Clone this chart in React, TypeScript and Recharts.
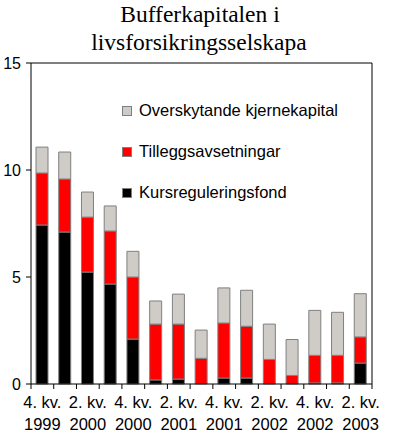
import React from "react";
import { BarChart, Bar, XAxis, YAxis, ReferenceLine, Legend } from "recharts";

const quarters = [
  "4. kv. 1999", "1. kv. 2000", "2. kv. 2000", "3. kv. 2000", "4. kv. 2000",
  "1. kv. 2001", "2. kv. 2001", "3. kv. 2001", "4. kv. 2001",
  "1. kv. 2002", "2. kv. 2002", "3. kv. 2002", "4. kv. 2002",
  "1. kv. 2003", "2. kv. 2003",
];
const kursreguleringsfond = [7.43, 7.1, 5.23, 4.67, 2.1, 0.19, 0.23, 0, 0.28, 0.28, 0, 0, 0.05, 0.05, 0.98];
const tilleggsavsetningar = [2.43, 2.48, 2.57, 2.48, 2.9, 2.61, 2.57, 1.2, 2.57, 2.42, 1.15, 0.4, 1.29, 1.29, 1.22];
const overskytande = [1.21, 1.26, 1.17, 1.17, 1.2, 1.08, 1.4, 1.32, 1.64, 1.68, 1.65, 1.68, 2.1, 2.01, 2.02];
const yTicks = [0, 5, 10, 15];

const series = [
  { key: "kurs", name: "Kursreguleringsfond", color: "#000000" },
  { key: "tillegg", name: "Tilleggsavsetningar", color: "#ff0000" },
  { key: "over", name: "Overskytande kjernekapital", color: "#cfcbc6" },
];

const rows = quarters.map((q, i) => ({
  q,
  kurs: kursreguleringsfond[i],
  tillegg: tilleggsavsetningar[i],
  over: overskytande[i],
}));

const W = 400;
const H = 437;
const LEFT = 31;
const RIGHT = 28;
const TOP = 63;
const BOTTOM = 53;
const FONT = "'Liberation Sans', Arial, sans-serif";

function QuarterTick(props: any) {
  const { x, y, payload, index } = props;
  const band = (W - LEFT - RIGHT) / quarters.length;
  const [a, b, year] = String(payload.value).split(" ");
  return (
    <g>
      <line x1={x - band / 2} x2={x - band / 2} y1={y} y2={y + 5} stroke="#000" />
      {index === quarters.length - 1 && (
        <line x1={x + band / 2} x2={x + band / 2} y1={y} y2={y + 5} stroke="#000" />
      )}
      {index % 2 === 0 && (
        <text textAnchor="middle" fontFamily={FONT} fontSize={16.5} fill="#000">
          <tspan x={x} y={y + 24}>{`${a} ${b}`}</tspan>
          <tspan x={x} y={y + 46}>{year}</tspan>
        </text>
      )}
    </g>
  );
}

function LegendBox() {
  return (
    <div style={{ fontFamily: FONT, fontSize: 16.5, color: "#000" }}>
      {[...series].reverse().map((s) => (
        <div key={s.key} style={{ display: "flex", alignItems: "center", height: 41 }}>
          <span
            style={{
              display: "inline-block",
              width: 8,
              height: 8,
              background: s.color,
              border: "1px solid #808080",
              marginRight: 7,
            }}
          />
          <span>{s.name}</span>
        </div>
      ))}
    </div>
  );
}

export default function App() {
  return (
    <div style={{ position: "relative", width: W, height: H, background: "#fff" }}>
      <style>{`body{margin:0}`}</style>
      <svg width={W} height={62} style={{ position: "absolute", left: 0, top: 0 }}>
        <text x={200} y={22} textAnchor="middle" fontFamily="'Liberation Serif', 'Times New Roman', serif" fontSize={23.5}>
          Bufferkapitalen i
        </text>
        <text x={199} y={50} textAnchor="middle" fontFamily="'Liberation Serif', 'Times New Roman', serif" fontSize={23.5}>
          livsforsikringsselskapa
        </text>
      </svg>
      <BarChart
        width={W}
        height={H}
        data={rows}
        margin={{ top: TOP, right: 0, bottom: 0, left: 0 }}
        style={{ position: "absolute", left: 0, top: 0 }}
      >
        <XAxis
          dataKey="q"
          height={BOTTOM}
          interval={0}
          tickLine={false}
          tickSize={0}
          tickMargin={0}
          axisLine={{ stroke: "#000" }}
          tick={<QuarterTick />}
        />
        <YAxis
          yAxisId="left"
          width={LEFT}
          domain={[0, 15]}
          ticks={yTicks}
          tickSize={5}
          tickMargin={5}
          axisLine={{ stroke: "#000" }}
          tickLine={{ stroke: "#000" }}
          tick={{ fill: "#000", fontSize: 16, fontFamily: FONT }}
        />
        <YAxis
          yAxisId="right"
          orientation="right"
          width={RIGHT}
          domain={[0, 15]}
          ticks={yTicks}
          tickSize={5}
          tickMargin={3}
          axisLine={{ stroke: "#000" }}
          tickLine={{ stroke: "#000" }}
          tick={{ fill: "#000", fontSize: 16, fontFamily: FONT, textAnchor: "start" }}
        />
        <ReferenceLine yAxisId="left" y={15} stroke="#000" />
        <Legend
          layout="vertical"
          align="center"
          verticalAlign="middle"
          content={<LegendBox />}
          wrapperStyle={{ left: 122, top: 90, width: "auto" }}
        />
        {series.map((s) => (
          <Bar
            key={s.key}
            yAxisId="left"
            dataKey={s.key}
            name={s.name}
            stackId="a"
            fill={s.color}
            stroke="#808080"
            strokeWidth={1}
            barSize={12}
            isAnimationActive={false}
          />
        ))}
      </BarChart>
    </div>
  );
}
